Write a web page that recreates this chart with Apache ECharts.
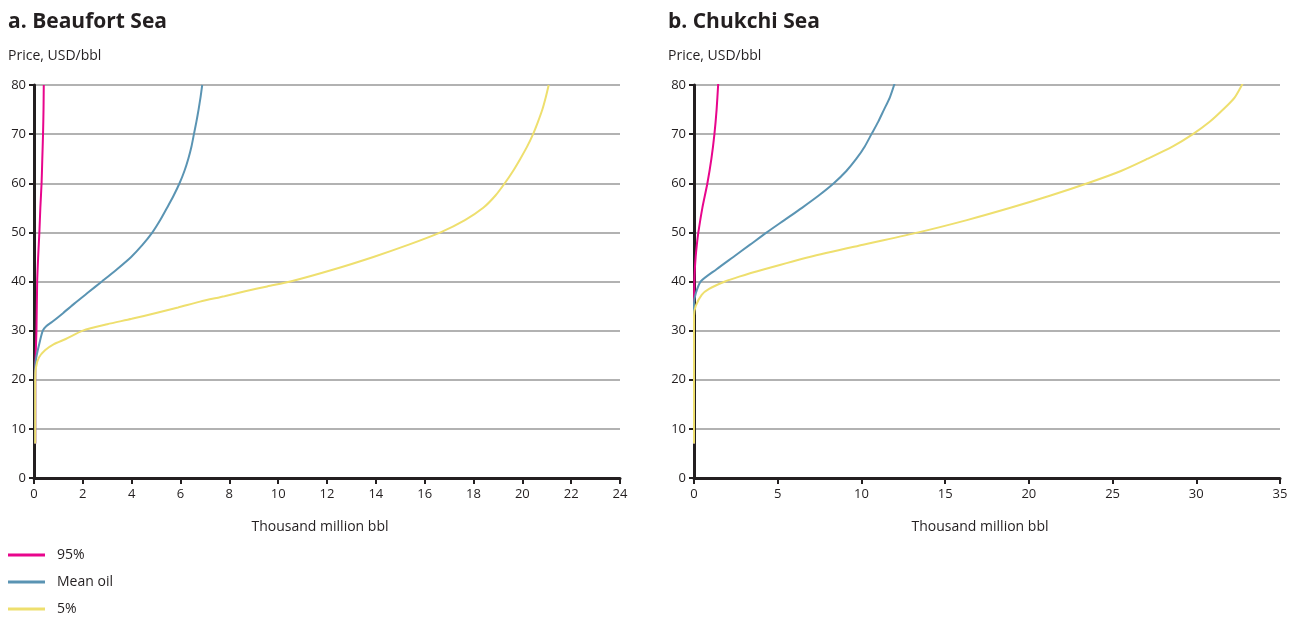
<!DOCTYPE html>
<html>
<head>
<meta charset="utf-8">
<script src="https://cdn.jsdelivr.net/npm/echarts@6/dist/echarts.min.js"></script>
<style>
  html, body { margin: 0; padding: 0; background: #fff; }
  #chart { width: 1295px; height: 617px; }
</style>
</head>
<body>
<div id="chart"></div>
<script>
// ---- Data (x: thousand million bbl, y: price USD/bbl) ----
const seriesNames = ['95%', 'Mean oil', '5%'];

const beaufort95 = [[0.05,7],[0.05,22],[0.06,24],[0.1,30],[0.13,40],[0.17,45],[0.22,50],[0.26,55],[0.31,60],[0.34,65],[0.37,70],[0.39,75],[0.40,80]];
const beaufortMean = [[0.05,7],[0.05,22],[0.06,23.5],[0.11,25],[0.22,27.4],[0.36,30],[0.5,30.9],[0.75,31.8],[1.2,33.6],[1.65,35.5],[2.2,37.7],[2.78,40],[3.4,42.5],[3.98,45],[4.45,47.5],[4.85,50],[5.17,52.5],[5.45,55],[5.72,57.5],[5.96,60],[6.16,62.5],[6.32,65],[6.45,67.5],[6.55,70],[6.65,72.5],[6.74,75],[6.82,77.5],[6.89,80]];
const beaufort5 = [[0.05,7],[0.05,20],[0.08,22.5],[0.2,24.5],[0.45,26],[0.8,27.2],[1.3,28.3],[2.0,30],[3.0,31.3],[4.0,32.4],[5.0,33.6],[5.9,34.7],[6.8,35.9],[7.8,37],[8.65,38],[9.55,39],[10.5,40],[12.3,42.5],[13.9,45],[15.35,47.5],[16.65,50],[17.65,52.5],[18.4,55],[18.9,57.5],[19.28,60],[19.62,62.5],[19.92,65],[20.2,67.5],[20.44,70],[20.64,72.5],[20.82,75],[20.96,77.5],[21.08,80]];

const chukchi95 = [[0,7],[0,34],[0.02,40],[0.05,42.5],[0.1,45],[0.17,47.5],[0.26,50],[0.5,55],[0.8,60],[1.04,65],[1.22,70],[1.35,75],[1.45,80.5]];
const chukchiMean = [[0,7],[0,35.5],[0.1,37.5],[0.4,40],[1.35,42.5],[2.35,45],[3.35,47.5],[4.35,50],[5.4,52.5],[6.45,55],[7.45,57.5],[8.35,60],[9.1,62.5],[9.7,65],[10.2,67.5],[10.6,70],[11.0,72.5],[11.35,75],[11.7,77.5],[12.0,80.5]];
const chukchi5 = [[0,7],[0,33],[0.1,35],[0.46,37.3],[0.9,38.5],[1.85,40],[2.7,41],[4.2,42.5],[6.9,45],[10.1,47.5],[13.4,50],[16.3,52.5],[18.9,55],[21.3,57.5],[23.5,60],[25.5,62.5],[27.1,65],[28.6,67.5],[29.8,70],[30.8,72.5],[31.6,75],[32.3,77.5],[32.8,80.5]];

const yTicks = [0, 10, 20, 30, 40, 50, 60, 70, 80];
const beaufortXTicks = [0, 2, 4, 6, 8, 10, 12, 14, 16, 18, 20, 22, 24];
const chukchiXTicks = [0, 5, 10, 15, 20, 25, 30, 35];

const colors = ['#e8058c', '#5a94b3', '#eedf6e'];
const font = 'Open Sans';
const ink = '#231f20';

function xAxis(idx, ticks) {
  return {
    type: 'value', gridIndex: idx,
    min: ticks[0], max: ticks[ticks.length - 1], interval: ticks[1] - ticks[0],
    name: 'Thousand million bbl', nameLocation: 'middle', nameGap: 42,
    nameTextStyle: { fontFamily: font, fontSize: 14, color: ink, padding: [0, 14, 0, 0] },
    axisLine: { lineStyle: { color: ink, width: 3 } },
    axisTick: { show: true, length: 6, lineStyle: { color: ink, width: 2 } },
    axisLabel: { fontFamily: font, fontSize: 13, color: ink, margin: 10 },
    splitLine: { show: false }
  };
}
function yAxis(idx) {
  return {
    type: 'value', gridIndex: idx,
    min: yTicks[0], max: yTicks[yTicks.length - 1], interval: 10,
    axisLine: { show: true, lineStyle: { color: ink, width: 3 } },
    axisTick: { show: true, length: 5, lineStyle: { color: ink, width: 2 } },
    axisLabel: { fontFamily: font, fontSize: 13, color: ink, margin: 8 },
    splitLine: { show: true, lineStyle: { color: '#999999', width: 1.5 } }
  };
}
function line(name, data, idx, color, z) {
  return {
    name, type: 'line', data, xAxisIndex: idx, yAxisIndex: idx,
    showSymbol: false, symbol: 'none', smooth: 0.25,
    lineStyle: { color, width: 2 }, itemStyle: { color }, z
  };
}

const chart = echarts.init(document.getElementById('chart'), null, { renderer: 'canvas' });
chart.setOption({
  animation: false,
  backgroundColor: '#ffffff',
  title: [
    { text: 'a. Beaufort Sea', subtext: 'Price, USD/bbl', left: 3, top: 7, itemGap: 16,
      textStyle: { fontFamily: font, fontSize: 21, fontWeight: 'bold', color: ink },
      subtextStyle: { fontFamily: font, fontSize: 14, color: ink } },
    { text: 'b. Chukchi Sea', subtext: 'Price, USD/bbl', left: 663, top: 7, itemGap: 16,
      textStyle: { fontFamily: font, fontSize: 21, fontWeight: 'bold', color: ink },
      subtextStyle: { fontFamily: font, fontSize: 14, color: ink } }
  ],
  legend: {
    orient: 'vertical', left: 8, top: 548, height: 80, padding: 0, itemGap: 13,
    itemWidth: 37, itemHeight: 3, icon: 'rect',
    textStyle: { fontFamily: font, fontSize: 14, color: ink, padding: [0, 0, 0, 7] },
    data: seriesNames
  },
  grid: [
    { left: 34, right: 675, top: 85, bottom: 139 },
    { left: 694, right: 15, top: 85, bottom: 139 }
  ],
  xAxis: [xAxis(0, beaufortXTicks), xAxis(1, chukchiXTicks)],
  yAxis: [yAxis(0), yAxis(1)],
  series: [
    line(seriesNames[0], beaufort95, 0, colors[0], 3),
    line(seriesNames[1], beaufortMean, 0, colors[1], 4),
    line(seriesNames[2], beaufort5, 0, colors[2], 5),
    line(seriesNames[0], chukchi95, 1, colors[0], 3),
    line(seriesNames[1], chukchiMean, 1, colors[1], 4),
    line(seriesNames[2], chukchi5, 1, colors[2], 5)
  ]
});
</script>
</body>
</html>
